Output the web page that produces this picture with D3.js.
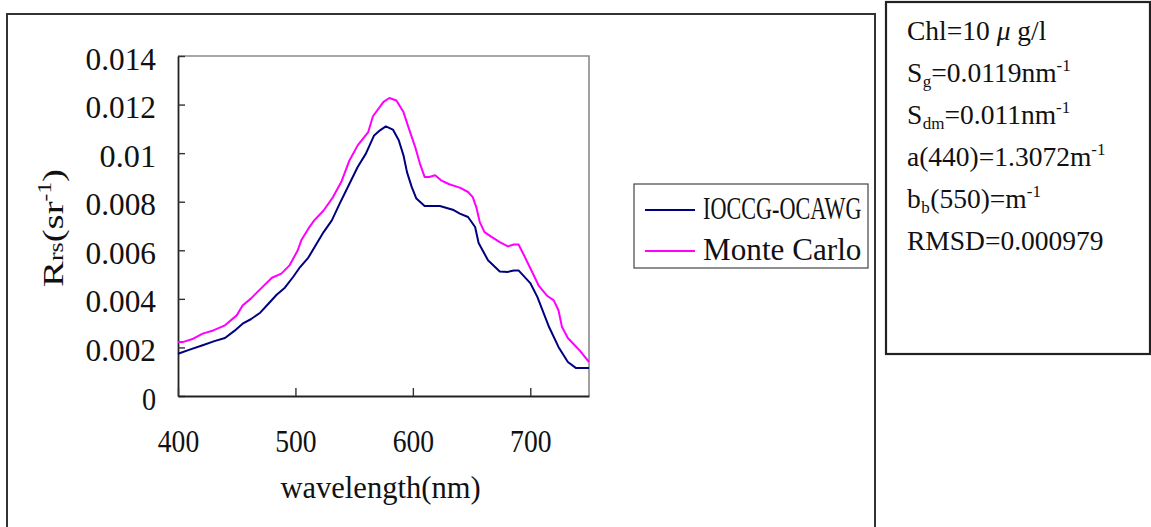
<!DOCTYPE html>
<html>
<head>
<meta charset="utf-8">
<script src="https://cdn.jsdelivr.net/npm/d3@7"></script>
<style>
  html, body { margin: 0; padding: 0; background: #fff; }
  svg { display: block; }
</style>
</head>
<body>
<svg id="chart" width="1151" height="527"></svg>
<script>
// ---------- data ----------
const ioccgWavelength = [400,410,421,431,440,448,455,462,470,477,484,491,498,504,511,518,524,531,538,546,553,560,567,572,577,583,588,592,595,599,603,610,623,634,640,647,653,656,664,674,681,686,690,700,706,716,724,732,739,750];
const ioccgRrs = [0.00174,0.00191,0.00209,0.00226,0.00239,0.00268,0.00298,0.00316,0.00343,0.00380,0.00417,0.00446,0.00490,0.00531,0.00570,0.00627,0.00675,0.00723,0.00795,0.00874,0.00943,0.00998,0.01073,0.01094,0.01110,0.01097,0.01053,0.00991,0.00922,0.00861,0.00813,0.00782,0.00782,0.00767,0.00751,0.00737,0.00696,0.00630,0.00559,0.00513,0.00511,0.00517,0.00517,0.00465,0.00408,0.00284,0.00202,0.00140,0.00115,0.00115];

const mcWavelength = [400,404,413,421,430,440,450,455,462,469,480,488,495,502,505,511,516,524,532,539,546,553,562,566,575,580,586,592,596,602,606,610,614,619,624,631,640,647,651,654,657,661,667,674,681,686,690,694,701,707,714,720,724,727,732,737,742,750];
const mcRrs = [0.00222,0.00222,0.00236,0.00257,0.00270,0.00291,0.00332,0.00373,0.00401,0.00435,0.00487,0.00504,0.00538,0.00600,0.00641,0.00689,0.00723,0.00764,0.00819,0.00881,0.00970,0.01032,0.01087,0.01152,0.01211,0.01227,0.01217,0.01169,0.01110,0.01025,0.00957,0.00902,0.00902,0.00909,0.00888,0.00872,0.00858,0.00840,0.00819,0.00778,0.00716,0.00675,0.00655,0.00634,0.00616,0.00624,0.00624,0.00586,0.00517,0.00456,0.00414,0.00394,0.00353,0.00284,0.00239,0.00213,0.00188,0.00140];

const seriesNames = ["IOCCG-OCAWG", "Monte Carlo"];
const xTickValues = [400, 500, 600, 700];
const xTickLabels = ["400", "500", "600", "700"];
const yTickValues = [0, 0.002, 0.004, 0.006, 0.008, 0.01, 0.012, 0.014];
const yTickLabels = ["0", "0.002", "0.004", "0.006", "0.008", "0.01", "0.012", "0.014"];
const xDomain = [400, 750];
const yDomain = [0, 0.014];

// ---------- layout / style ----------
const plot = { left: 178, top: 56, right: 589, bottom: 396 };
const colors = ["#000080", "#ff00ff"];
const simFont = "'Liberation Serif', 'DejaVu Serif', serif";
const charW = 14.1;

const svg = d3.select("#chart");

// outer frames
svg.append("rect").attr("x", 7).attr("y", 14).attr("width", 868).attr("height", 530)
  .attr("fill", "none").attr("stroke", "#333").attr("stroke-width", 2);
svg.append("rect").attr("x", 886).attr("y", 2).attr("width", 264).attr("height", 352)
  .attr("fill", "none").attr("stroke", "#222").attr("stroke-width", 2.2);

const x = d3.scaleLinear().domain(xDomain).range([plot.left, plot.right]);
const y = d3.scaleLinear().domain(yDomain).range([plot.bottom, plot.top]);

// plot border (top & right gray)
svg.append("path")
  .attr("d", `M${plot.left},${plot.top}H${plot.right}V${plot.bottom}`)
  .attr("fill", "none").attr("stroke", "#8a8a8a").attr("stroke-width", 1.6);

// y axis
const yAxis = svg.append("g").attr("transform", `translate(${plot.left},0)`)
  .call(d3.axisLeft(y).tickValues(yTickValues)
    .tickFormat((d, i) => yTickLabels[i])
    .tickSizeInner(-7).tickSizeOuter(0).tickPadding(22));
yAxis.select(".domain").attr("stroke", "#222").attr("stroke-width", 1.8);
yAxis.selectAll(".tick line").attr("stroke", "#333").attr("stroke-width", 1.4);
yAxis.selectAll(".tick text")
  .attr("font-family", simFont).attr("font-size", 31).attr("fill", "#111")
  .attr("dy", "0.42em")
  .attr("textLength", (d, i) => yTickLabels[i].length * charW)
  .attr("lengthAdjust", "spacingAndGlyphs");

// x axis
const xAxis = svg.append("g").attr("transform", `translate(0,${plot.bottom})`)
  .call(d3.axisBottom(x).tickValues(xTickValues)
    .tickFormat((d, i) => xTickLabels[i])
    .tickSizeInner(-8).tickSizeOuter(0).tickPadding(10));
xAxis.select(".domain").attr("stroke", "#222").attr("stroke-width", 1.8);
xAxis.selectAll(".tick line").attr("stroke", "#333").attr("stroke-width", 1.4);
xAxis.selectAll(".tick text")
  .attr("font-family", simFont).attr("font-size", 31).attr("fill", "#111")
  .attr("y", 56).attr("dy", 0)
  .attr("textLength", (d, i) => xTickLabels[i].length * 13.8)
  .attr("lengthAdjust", "spacingAndGlyphs");

// lines
const line = d3.line().x(d => x(d[0])).y(d => y(d[1]));
const seriesData = [
  d3.zip(ioccgWavelength, ioccgRrs),
  d3.zip(mcWavelength, mcRrs)
];
seriesData.forEach((s, i) => {
  svg.append("path").datum(s).attr("d", line)
    .attr("fill", "none").attr("stroke", colors[i]).attr("stroke-width", 2)
    .attr("stroke-linejoin", "round");
});

// axis titles
svg.append("text")
  .attr("x", (plot.left + plot.right) / 2 - 3).attr("y", 498)
  .attr("text-anchor", "middle")
  .attr("font-family", simFont).attr("font-size", 31).attr("fill", "#111")
  .attr("textLength", 14 * 14.3).attr("lengthAdjust", "spacingAndGlyphs")
  .text("wavelength(nm)");

const yt = svg.append("text")
  .attr("transform", `translate(63,${(plot.top + plot.bottom) / 2 + 2}) rotate(-90)`)
  .attr("text-anchor", "middle")
  .attr("font-family", simFont).attr("fill", "#111")
  .attr("textLength", 118).attr("lengthAdjust", "spacingAndGlyphs");
yt.append("tspan").attr("font-size", 30).text("R");
yt.append("tspan").attr("font-size", 20).text("rs");
yt.append("tspan").attr("font-size", 30).text("(sr");
yt.append("tspan").attr("font-size", 18).attr("dy", -12).text("-1");
yt.append("tspan").attr("font-size", 30).attr("dy", 12).text(")");

// legend
svg.append("rect").attr("x", 634).attr("y", 184).attr("width", 234).attr("height", 84)
  .attr("fill", "#fff").attr("stroke", "#444").attr("stroke-width", 1.2);
seriesNames.forEach((name, i) => {
  const ly = 210 + i * 41;
  svg.append("line").attr("x1", 645).attr("x2", 695).attr("y1", ly).attr("y2", ly)
    .attr("stroke", colors[i]).attr("stroke-width", 2);
  svg.append("text").attr("x", 703).attr("y", ly + 9)
    .attr("font-family", simFont).attr("font-size", 31).attr("fill", "#111")
    .attr("textLength", name.length * 14.4).attr("lengthAdjust", "spacingAndGlyphs")
    .text(name);
});

// parameter box text
const boxFont = "'Liberation Serif', 'Times New Roman', serif";
const bx = 907;
const baselines = [40, 82, 124, 166, 208, 250];
function boxLine(i) {
  return svg.append("text").attr("x", bx).attr("y", baselines[i])
    .attr("font-family", boxFont).attr("font-size", 27.5).attr("fill", "#111");
}
let t = boxLine(0);
t.append("tspan").text("Chl=10 ");
t.append("tspan").attr("font-style", "italic").text("μ");
t.append("tspan").text(" g/l");

t = boxLine(1);
t.append("tspan").text("S");
t.append("tspan").attr("font-size", 17).attr("dy", 5).attr("dx", 0.5).text("g");
t.append("tspan").attr("dy", -5).text("=0.0119nm");
t.append("tspan").attr("font-size", 17).attr("dy", -11).text("-1");

t = boxLine(2);
t.append("tspan").text("S");
t.append("tspan").attr("font-size", 17).attr("dy", 5).attr("dx", 0.5).text("dm");
t.append("tspan").attr("dy", -5).text("=0.011nm");
t.append("tspan").attr("font-size", 17).attr("dy", -11).text("-1");

t = boxLine(3);
t.append("tspan").text("a(440)=1.3072m");
t.append("tspan").attr("font-size", 17).attr("dy", -11).text("-1");

t = boxLine(4);
t.append("tspan").text("b");
t.append("tspan").attr("font-size", 17).attr("dy", 5).attr("dx", 0.5).text("b");
t.append("tspan").attr("dy", -5).attr("dx", 0.5).text("(550)=m");
t.append("tspan").attr("font-size", 17).attr("dy", -11).text("-1");

t = boxLine(5);
t.text("RMSD=0.000979");
</script>
</body>
</html>
